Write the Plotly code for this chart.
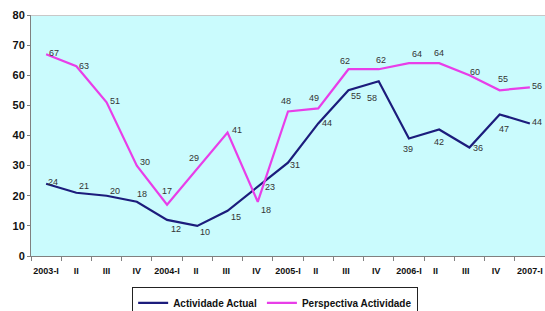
import plotly.graph_objects as go

categories = ["2003-I", "II", "III", "IV", "2004-I", "II ", "III ", "IV ", "2005-I", "II  ",
              "III  ", "IV  ", "2006-I", "II   ", "III   ", "IV   ", "2007-I"]
actual = [24, 21, 20, 18, 12, 10, 15, 23, 31, 44, 55, 58, 39, 42, 36, 47, 44]
perspectiva = [67, 63, 51, 30, 17, 29, 41, 18, 48, 49, 62, 62, 64, 64, 60, 55, 56]
y_ticks = [0, 10, 20, 30, 40, 50, 60, 70, 80]

# label offsets (pixels dx, dy with dy positive downward)
act_off = [(7, -2), (8, -7), (8, -5), (5, -8), (9, 9), (8, 6), (8, 6), (12, 0), (7, 2),
           (9, 0), (8, 6), (-7, 17), (-1, 10), (0, 13), (9, 0), (4, 15), (7, -1)]
per_off = [(8, -1), (8, 0), (8, -1), (8, -4), (0, -14), (-3, -11), (9, -2), (8, 8), (-2, -10),
           (-4, -10), (-3, -8), (2, -9), (8, -9), (0, -10), (6, -3), (3, -11), (7, -1)]

fig = go.Figure()
fig.add_trace(go.Scatter(x=categories, y=actual, mode="lines", name="Actividade Actual",
                         line=dict(color="#1c1c7c", width=2.2)))
fig.add_trace(go.Scatter(x=categories, y=perspectiva, mode="lines", name="Perspectiva Actividade",
                         line=dict(color="#e83ee8", width=2.2)))

ann = []
for vals, offs in ((actual, act_off), (perspectiva, per_off)):
    for i, (v, (dx, dy)) in enumerate(zip(vals, offs)):
        ann.append(dict(x=categories[i], y=v, text=str(v), showarrow=False,
                        xshift=dx, yshift=-dy,
                        font=dict(family="Liberation Sans, Arial", size=9, color="#333333")))

fig.update_layout(
    width=545, height=311,
    margin=dict(l=31, r=0, t=15, b=55, autoexpand=False),
    paper_bgcolor="white",
    plot_bgcolor="#cafbfd",
    showlegend=True,
    legend=dict(orientation="h", x=0.475, xanchor="center", y=-0.13, yanchor="top",
                bordercolor="#222222", borderwidth=1, bgcolor="white",
                font=dict(family="Liberation Sans, Arial", size=10, color="#111111",
                          weight="bold"),
                itemwidth=30, tracegroupgap=0),
    annotations=ann,
    shapes=[dict(type="line", xref="paper", yref="y", x0=0, x1=1, y0=80, y1=80,
                 line=dict(color="#c8c8c8", width=2))],
)
fig.update_xaxes(type="category", range=[-0.5, 16.5], tickson="boundaries", tickangle=0,
                 ticks="outside", ticklen=4, tickcolor="#808080", ticklabelstandoff=6,
                 showline=True, linecolor="#808080", linewidth=1, showgrid=False,
                 tickfont=dict(family="Liberation Sans Narrow, Liberation Sans, Arial",
                               size=9, color="#111111", weight="bold"))
fig.update_yaxes(range=[0, 80], tickvals=y_ticks, ticks="outside", ticklen=3,
                 tickcolor="#808080", showline=True, linecolor="#808080", linewidth=1,
                 showgrid=False, zeroline=False,
                 tickfont=dict(family="Liberation Sans, Arial", size=11, color="#111111",
                               weight="bold"))

fig.write_html("out.html", config={"displayModeBar": False},
               post_script="document.body.style.margin='0';document.body.style.overflow='hidden';")
